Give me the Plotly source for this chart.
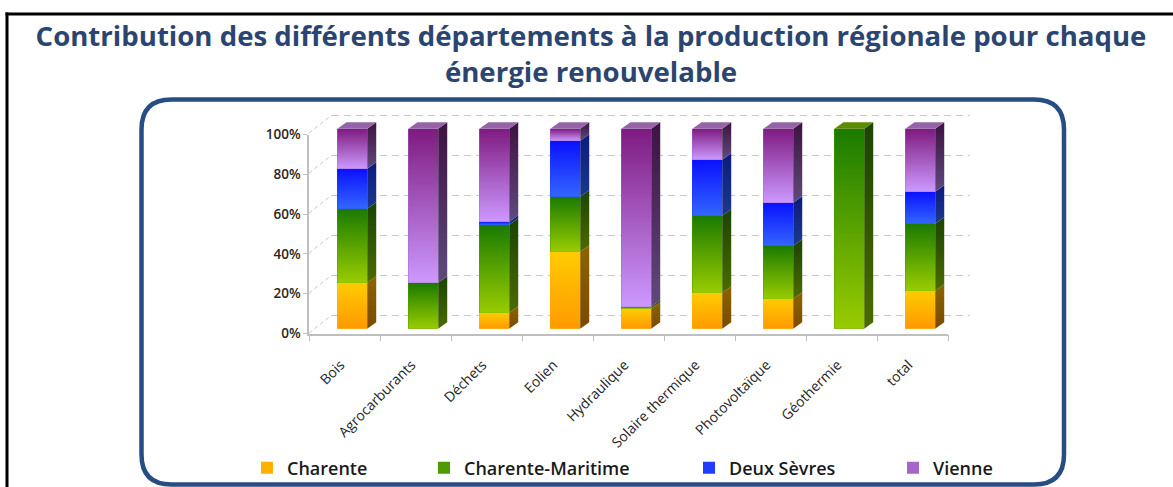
import plotly.graph_objects as go

# ---------------- data ----------------
categories = ["Bois", "Agrocarburants", "Déchets", "Eolien", "Hydraulique",
              "Solaire thermique", "Photovoltaïque", "Géothermie", "total"]
charente = [23, 0, 8, 38.5, 10, 18, 15, 0, 19]
charente_maritime = [37, 23, 44, 27.5, 1, 38.5, 26.5, 100, 33.5]
deux_sevres = [20, 0, 1.5, 28, 0, 28, 21.5, 0, 16]
vienne = [20, 77, 46.5, 6, 89, 15.5, 37, 0, 31.5]
series_names = ["Charente", "Charente-Maritime", "Deux Sèvres", "Vienne"]
y_ticks = [0, 20, 40, 60, 80, 100]
y_tick_labels = ["0%", "20%", "40%", "60%", "80%", "100%"]
title_text = "Contribution des différents départements à la production régionale pour chaque<br>énergie renouvelable"

# ---------------- styling ----------------
W, H = 1173, 487
def px(x):
    return x / W
def py(y):
    return 1 - y / H

FONT = "Open Sans"
styles = [
    dict(solid="#FFB000", front=("#FF9900", "#FFCC00"), side=("#7A4A00", "#8C6400"), top="#C89A20"),
    dict(solid="#4E9A00", front=("#99CC00", "#1A7A00"), side=("#4C6B00", "#1A4400"), top="#5C8A00"),
    dict(solid="#1F3CFF", front=("#3366FF", "#0A10FF"), side=("#1A3A8C", "#0C1A80"), top="#3A5AD0"),
    dict(solid="#A566C8", front=("#CC99FF", "#7E1A80"), side=("#5F4A7D", "#3D1240"), top="#9563A8"),
]
all_values = [charente, charente_maritime, deux_sevres, vienne]
legend_ids = ["legend", "legend2", "legend3", "legend4"]
legend_text_x = [284, 461, 726, 930]

BAR_W = 0.42
BAR_OFF = -0.10
DX = 9 / 71.0
DY = 3.25

fig = go.Figure()

# invisible anchors for the grid and front-axis subplots
fig.add_trace(go.Scatter(x=[0.5], y=[50], mode="markers", marker=dict(opacity=0),
                         showlegend=False, hoverinfo="skip", xaxis="x", yaxis="y"))
fig.add_trace(go.Scatter(x=[0], y=[50], mode="markers", marker=dict(opacity=0),
                         showlegend=False, hoverinfo="skip", xaxis="x3", yaxis="y3"))

xs = list(range(len(categories)))
for k, (name, vals, st) in enumerate(zip(series_names, all_values, styles)):
    fig.add_trace(go.Bar(
        x=xs, y=vals, name=name, width=BAR_W, offset=BAR_OFF,
        marker=dict(color=st["solid"], line=dict(width=0)),
        xaxis="x2", yaxis="y2", legend=legend_ids[k],
        hovertemplate="%{customdata}<br>" + name + ": %{y}%<extra></extra>",
        customdata=categories,
    ))

# gradient faces and 3D sides computed from the stacked data
for i in xs:
    base = 0.0
    top_series = None
    for k, (vals, st) in enumerate(zip(all_values, styles)):
        v = vals[i]
        if v <= 0:
            continue
        b, t = base, base + v
        xl = i + BAR_OFF
        xr = xl + BAR_W
        fig.add_trace(go.Scatter(
            x=[xl, xr, xr, xl, xl], y=[b, b, t, t, b], mode="lines",
            line=dict(width=0), fill="toself",
            fillgradient=dict(type="vertical",
                              colorscale=[[0, st["front"][0]], [1, st["front"][1]]]),
            showlegend=False, hoverinfo="skip", xaxis="x2", yaxis="y2"))
        fig.add_trace(go.Scatter(
            x=[xr, xr + DX, xr + DX, xr, xr], y=[b, b + DY, t + DY, t, b], mode="lines",
            line=dict(width=0), fill="toself",
            fillgradient=dict(type="vertical",
                              colorscale=[[0, st["side"][0]], [1, st["side"][1]]]),
            showlegend=False, hoverinfo="skip", xaxis="x2", yaxis="y2"))
        base = t
        top_series = k
    if top_series is not None:
        xl = i + BAR_OFF
        xr = xl + BAR_W
        fig.add_trace(go.Scatter(
            x=[xl, xr, xr + DX, xl + DX, xl], y=[base, base, base + DY, base + DY, base],
            mode="lines", line=dict(width=0), fill="toself",
            fillcolor=styles[top_series]["top"],
            showlegend=False, hoverinfo="skip", xaxis="x2", yaxis="y2"))

# ---------------- shapes ----------------
shapes = []
shapes.append(dict(type="line", xref="paper", yref="paper",
                   x0=px(5.5), x1=1.0, y0=py(14), y1=py(14),
                   line=dict(color="black", width=3)))
shapes.append(dict(type="line", xref="paper", yref="paper",
                   x0=px(7), x1=px(7), y0=py(12.5), y1=0.0,
                   line=dict(color="black", width=3)))
x0, x1, y0, y1, r = 141.5, 1064, 99.5, 484.5, 30
pts = lambda x, y: f"{px(x):.5f},{py(y):.5f}"
path = (f"M {pts(x0 + r, y0)} L {pts(x1 - r, y0)} Q {pts(x1, y0)} {pts(x1, y0 + r)} "
        f"L {pts(x1, y1 - r)} Q {pts(x1, y1)} {pts(x1 - r, y1)} "
        f"L {pts(x0 + r, y1)} Q {pts(x0, y1)} {pts(x0, y1 - r)} "
        f"L {pts(x0, y0 + r)} Q {pts(x0, y0)} {pts(x0 + r, y0)} Z")
shapes.append(dict(type="path", xref="paper", yref="paper", path=path,
                   line=dict(color="#264E82", width=4.5), layer="below"))
for v in y_ticks:
    yb = 315 - 2.0 * v
    shapes.append(dict(type="line", xref="paper", yref="paper",
                       x0=px(309), y0=py(yb + 18), x1=px(332), y1=py(yb),
                       line=dict(color="#C8C8C8", width=1, dash="4px,3px"), layer="below"))

grid_color = "#C8C8C8"
axis_color = "#BFBFBF"

legends = {}
for k, lid in enumerate(legend_ids):
    legends[lid] = dict(x=px(legend_text_x[k] - 37), y=py(468), xanchor="left", yanchor="middle",
                        orientation="h", bgcolor="rgba(0,0,0,0)",
                        font=dict(family=FONT, size=18, color="#1A1A1A", weight=600))

fig.update_layout(
    width=W, height=H, autosize=False,
    margin=dict(l=0, r=0, t=0, b=0, pad=0, autoexpand=False),
    paper_bgcolor="white", plot_bgcolor="rgba(0,0,0,0)",
    barmode="stack",
    title=dict(text=title_text, x=px(591), xanchor="center", y=py(46), yanchor="middle",
               xref="paper", yref="paper", automargin=False,
               font=dict(family=FONT, size=27.6, color="#2B4570", weight="bold")),
    shapes=shapes,
    xaxis=dict(domain=[px(332), px(970)], range=[0, 1], anchor="y",
               showticklabels=False, showgrid=False, zeroline=False, showline=False, ticks=""),
    yaxis=dict(domain=[py(319), py(111)], range=[-2, 102], anchor="x",
               tickvals=y_ticks, showticklabels=False, showgrid=True,
               gridcolor=grid_color, gridwidth=1, griddash="7px,5px",
               zeroline=False, showline=False, ticks=""),
    xaxis2=dict(domain=[px(309), px(948)], range=[-0.5, 8.5], anchor="y2", type="linear",
                visible=False),
    yaxis2=dict(domain=[py(328.7), py(108.7)], range=[0, 110], anchor="x2", visible=False),
    xaxis3=dict(domain=[px(309), px(948)], range=[-0.5, 8.5], anchor="y3", type="linear",
                tickvals=xs, ticktext=categories, tickangle=-45, ticks="",
                ticklabelstandoff=16, ticklabelshift=-4, automargin=False,
                showline=True, linecolor=axis_color, linewidth=1.5,
                showgrid=False, zeroline=False,
                minor=dict(tickvals=[k - 0.5 for k in range(len(categories) + 1)],
                           ticks="outside", ticklen=6, tickcolor=axis_color, showgrid=False),
                tickfont=dict(family=FONT, size=14, color="#262626")),
    yaxis3=dict(domain=[py(333.5), py(134.5)], range=[0, 100], anchor="x3",
                tickvals=y_ticks, ticktext=y_tick_labels, ticks="outside", ticklen=4,
                automargin=False,
                tickcolor=axis_color, showline=True, linecolor=axis_color, linewidth=1.5,
                showgrid=False, zeroline=False,
                tickfont=dict(family=FONT, size=13.5, color="#262626", weight=600)),
    **legends,
)

fig.write_html("out.html", config={"displayModeBar": False},
               post_script="document.body.style.margin='0';document.body.style.overflow='hidden';")
